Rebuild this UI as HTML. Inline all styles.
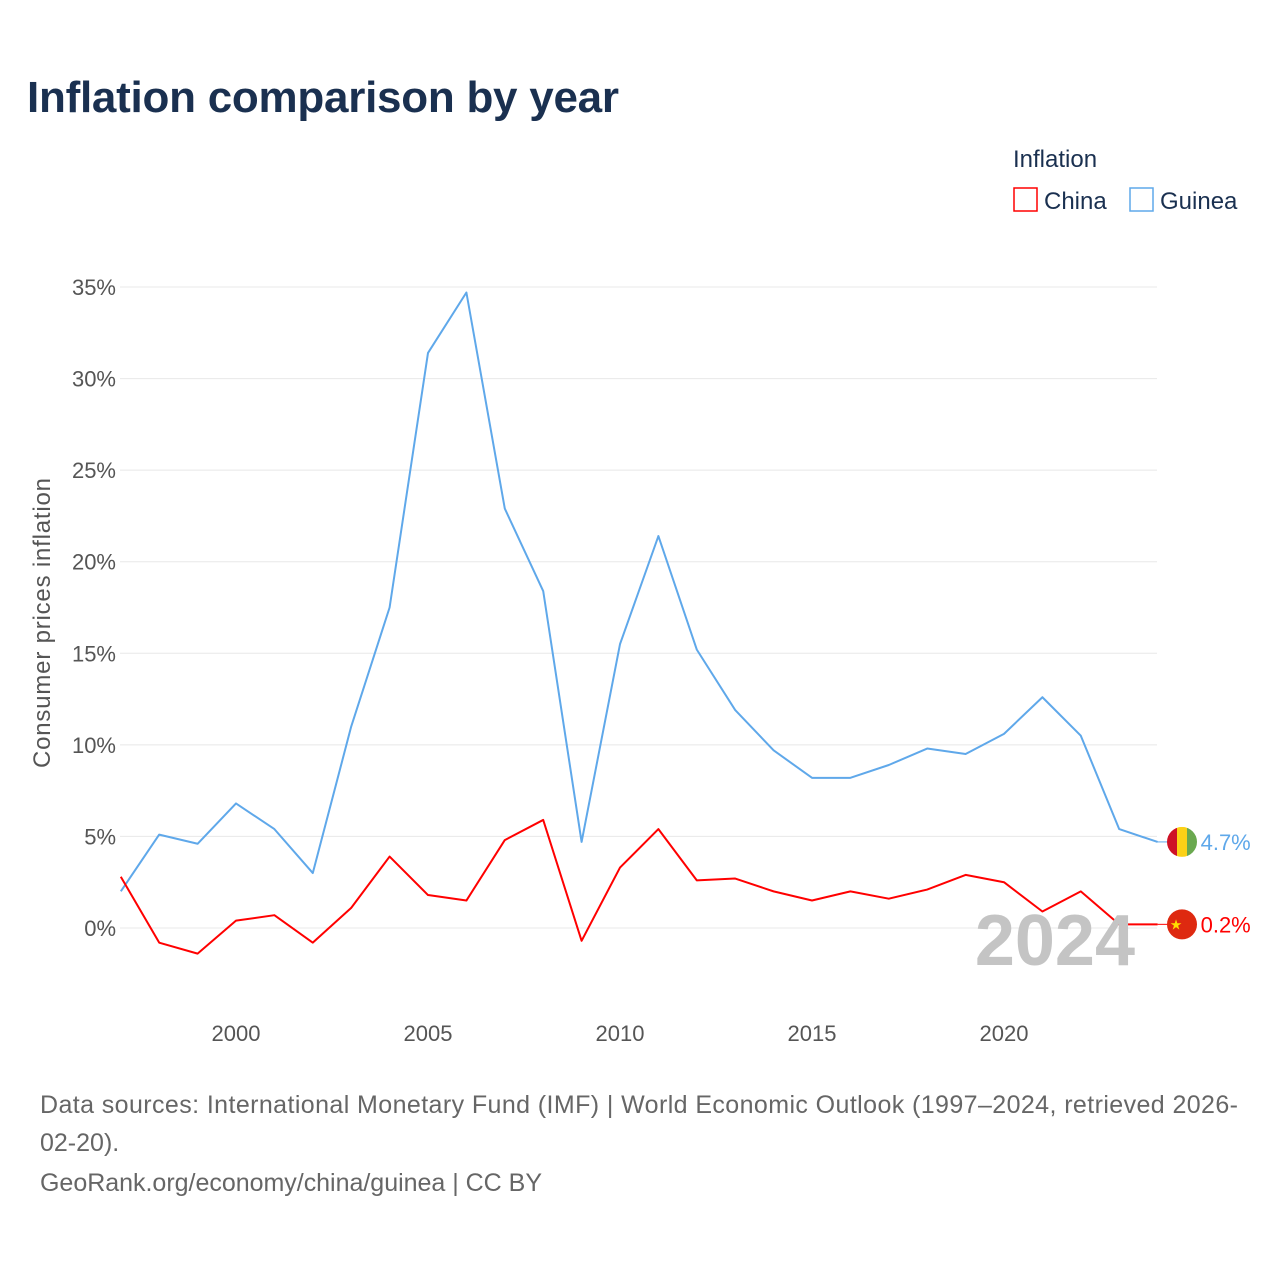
<!DOCTYPE html>
<html><head><meta charset="utf-8"><style>
body{margin:0;background:#fff;font-family:"Liberation Sans",sans-serif}
svg text{font-family:"Liberation Sans",sans-serif}
</style></head><body>
<svg id="c" width="1280" height="1280" xmlns="http://www.w3.org/2000/svg">
<text x="27" y="112" font-size="44" font-weight="bold" fill="#1a3050" textLength="592">Inflation comparison by year</text>
<text x="1013" y="167" font-size="24" fill="#1a3050">Inflation</text>
<g><rect x="1014" y="188" width="23" height="23" fill="none" stroke="#ff0000" stroke-width="1.5"/><text x="1044" y="209" font-size="24" fill="#1a3050">China</text></g>
<g><rect x="1130" y="188" width="23" height="23" fill="none" stroke="#5fa8ea" stroke-width="1.5"/><text x="1160" y="209" font-size="24" fill="#1a3050">Guinea</text></g>
<text transform="translate(50,623) rotate(-90)" text-anchor="middle" font-size="24" textLength="290" fill="#555">Consumer prices inflation</text>
<g id="grid"></g><g id="marks"></g>
<text x="1135" y="965" text-anchor="end" font-size="72" font-weight="bold" fill="#c4c4c4">2024</text>
<text x="40" y="1113" font-size="25" fill="#666" textLength="1198">Data sources: International Monetary Fund (IMF) | World Economic Outlook (1997–2024, retrieved 2026-</text>
<text x="40" y="1151" font-size="25" fill="#666">02-20).</text>
<text x="40" y="1191" font-size="25" fill="#666" textLength="502">GeoRank.org/economy/china/guinea | CC BY</text>
</svg>
<script>
const years=[1997,1998,1999,2000,2001,2002,2003,2004,2005,2006,2007,2008,2009,2010,2011,2012,2013,2014,2015,2016,2017,2018,2019,2020,2021,2022,2023,2024];
const guinea=[2.0,5.1,4.6,6.8,5.4,3.0,11.0,17.5,31.4,34.7,22.9,18.4,4.7,15.5,21.4,15.2,11.9,9.7,8.2,8.2,8.9,9.8,9.5,10.6,12.6,10.5,5.4,4.7];
const china=[2.8,-0.8,-1.4,0.4,0.7,-0.8,1.1,3.9,1.8,1.5,4.8,5.9,-0.7,3.3,5.4,2.6,2.7,2.0,1.5,2.0,1.6,2.1,2.9,2.5,0.9,2.0,0.2,0.2];
const yTicks=[0,5,10,15,20,25,30,35];
const xTicks=[2000,2005,2010,2015,2020];
const NS="http://www.w3.org/2000/svg";
const X=y=>236+(y-2000)*38.4, Y=v=>928-v*18.314;
function el(t,a,p){const e=document.createElementNS(NS,t);for(const k in a)e.setAttribute(k,a[k]);p.appendChild(e);return e;}
const g=document.getElementById('grid'),m=document.getElementById('marks');
yTicks.forEach(t=>{
 const l=el('line',{x1:120,x2:1157,y1:Y(t),y2:Y(t),stroke:'#e8e8e8','stroke-width':1},g);
 
 
 const tx=el('text',{x:116,y:Y(t)+8,'text-anchor':'end','font-size':22,fill:'#555'},g);tx.textContent=t+'%';
 
 
});
xTicks.forEach(t=>{
 const tx=el('text',{x:X(t),y:1041,'text-anchor':'middle','font-size':22,fill:'#555'},g);tx.textContent=t;
 
 
});
function series(vals,col,name){
 const p=el('polyline',{points:vals.map((v,i)=>X(years[i])+','+Y(v)).join(' '),fill:'none',stroke:col,'stroke-width':2,'stroke-linejoin':'round'},m);
 
 
 const last=vals[vals.length-1],lx=X(years[years.length-1]);
 el('line',{x1:lx,x2:lx+10,y1:Y(last),y2:Y(last),stroke:col,'stroke-width':1},m);
 const t=el('text',{x:lx+43,y:Y(last)+8,'font-size':22,fill:col},m);t.textContent=last.toFixed(1)+'%';
 
 
 return Y(last);
}
const gy=series(guinea,'#5fa8ea','guinea');
const cy=series(china,'#ff0000','china');
const cx=1182;
const gf=el('g',{},m);
el('clipPath',{id:'cg'},gf);el('circle',{cx:cx,cy:gy,r:15},document.getElementById('cg'));
const gg=el('g',{'clip-path':'url(#cg)'},gf);
el('rect',{x:cx-15,y:gy-15,width:10,height:30,fill:'#ce1126'},gg);
el('rect',{x:cx-5,y:gy-15,width:10,height:30,fill:'#fcd116'},gg);
el('rect',{x:cx+5,y:gy-15,width:10,height:30,fill:'#6aa84f'},gg);
const cf=el('g',{},m);
el('circle',{cx:cx,cy:cy,r:15,fill:'#de2910'},cf);
const st=el('text',{x:cx-6,y:cy+5,'text-anchor':'middle','font-size':14,fill:'#ffde00'},cf);st.textContent='★';
</script>
</body></html>
